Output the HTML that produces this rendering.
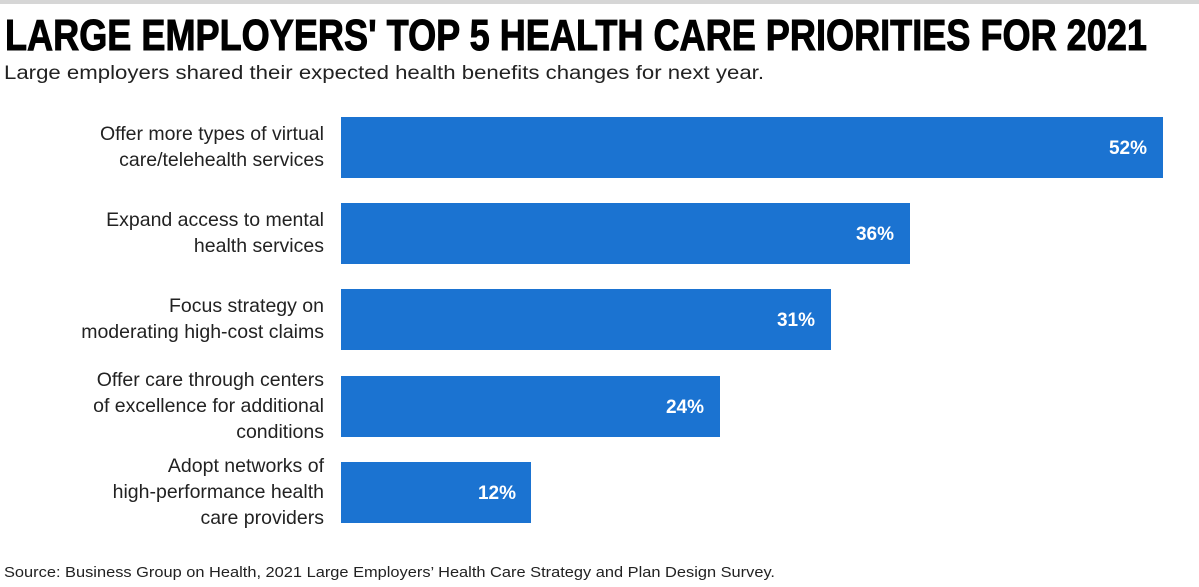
<!DOCTYPE html>
<html><head><meta charset="utf-8"><style>body{margin:0;background:#fff}svg{display:block}</style></head><body>
<svg width="1199" height="587" xmlns="http://www.w3.org/2000/svg" font-family="Liberation Sans, sans-serif">
<rect x="0" y="0" width="1199" height="4" fill="#d6d6d6"/>
<text x="5" y="50" font-size="44" font-weight="bold" fill="#000" stroke="#000" stroke-width="1" textLength="1142" lengthAdjust="spacingAndGlyphs">LARGE EMPLOYERS' TOP 5 HEALTH CARE PRIORITIES FOR 2021</text>
<text x="4" y="79" font-size="19" fill="#222" textLength="760" lengthAdjust="spacingAndGlyphs">Large employers shared their expected health benefits changes for next year.</text>
<g fill="#1b73d1">
<rect x="341" y="117" width="822" height="61"/>
<rect x="341" y="203" width="569" height="61"/>
<rect x="341" y="289" width="490" height="61"/>
<rect x="341" y="376" width="379" height="61"/>
<rect x="341" y="462" width="190" height="61"/>
</g>
<g font-size="19.5" fill="#222" text-anchor="end">
<text x="324" y="140">Offer more types of virtual</text>
<text x="324" y="166">care/telehealth services</text>
<text x="324" y="226">Expand access to mental</text>
<text x="324" y="252">health services</text>
<text x="324" y="312">Focus strategy on</text>
<text x="324" y="338">moderating high-cost claims</text>
<text x="324" y="386">Offer care through centers</text>
<text x="324" y="412">of excellence for additional</text>
<text x="324" y="438">conditions</text>
<text x="324" y="472">Adopt networks of</text>
<text x="324" y="498">high-performance health</text>
<text x="324" y="524">care providers</text>
</g>
<g font-size="19" font-weight="bold" fill="#fff" text-anchor="end">
<text x="1147" y="154">52%</text>
<text x="894" y="240">36%</text>
<text x="815" y="326">31%</text>
<text x="704" y="413">24%</text>
<text x="516" y="499">12%</text>
</g>
<text x="4" y="577" font-size="15" fill="#222" textLength="771" lengthAdjust="spacingAndGlyphs">Source: Business Group on Health, 2021 Large Employers’ Health Care Strategy and Plan Design Survey.</text>
</svg>
</body></html>
